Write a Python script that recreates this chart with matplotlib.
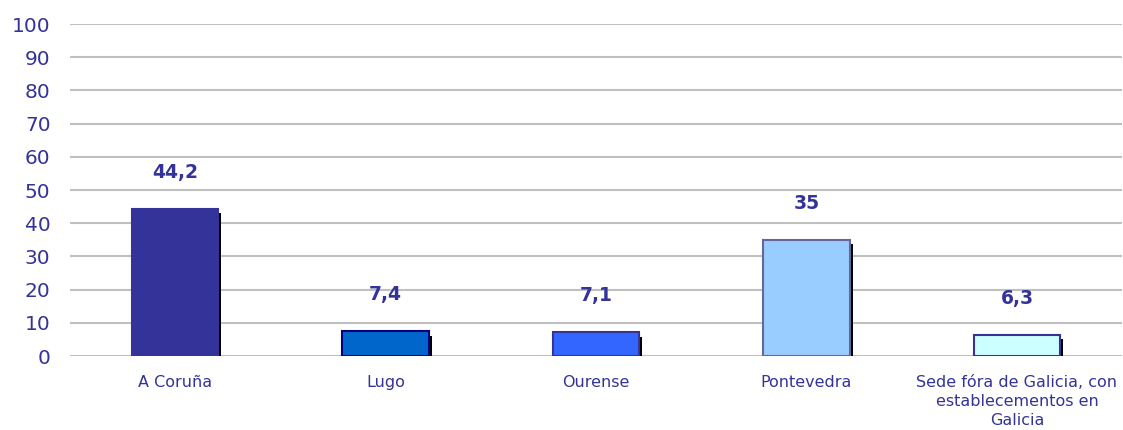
import matplotlib
matplotlib.use("Agg")
import matplotlib.pyplot as plt
import matplotlib.patheffects as pe

categories = ["A Coruña", "Lugo", "Ourense", "Pontevedra",
              "Sede fóra de Galicia, con\nestablecementos en\nGalicia"]
values = [44.2, 7.4, 7.1, 35, 6.3]
value_labels = ["44,2", "7,4", "7,1", "35", "6,3"]
face_colors = ["#333399", "#0066CC", "#3366FF", "#99CCFF", "#CCFFFF"]
edge_colors = ["#333399", "#000080", "#333399", "#666699", "#333399"]
yticks = list(range(0, 101, 10))

txt = "#333399"
fig = plt.figure(figsize=(11.23, 4.30), dpi=100)
ax = fig.add_axes([0.0623, 0.172, 0.937, 0.772])

x = range(len(categories))
bars = ax.bar(x, values, width=0.41, color=face_colors, edgecolor=edge_colors,
              linewidth=1.5, zorder=3)
for b in bars:
    b.set_path_effects([pe.SimplePatchShadow(offset=(2.2, -3), shadow_rgbFace="black", alpha=1.0),
                        pe.Normal()])

for xi, v, lab in zip(x, values, value_labels):
    ax.annotate(lab, (xi, v), xytext=(0, 26.5), textcoords="offset points",
                ha="center", va="center", fontsize=13.5, fontweight="bold", color=txt)

ax.set_xlim(-0.5, len(categories) - 0.5)
ax.set_ylim(0, 100)
ax.set_yticks(yticks)
ax.set_yticklabels([str(t) for t in yticks], fontsize=14.5, color=txt)
ax.set_xticks(list(x))
ax.set_xticklabels(categories, fontsize=11.5, color=txt, linespacing=1.33)
ax.tick_params(axis="both", length=0)
ax.tick_params(axis="y", pad=14)
ax.tick_params(axis="x", pad=14)
ax.yaxis.grid(True, color="#C0C0C0", linewidth=1.5, zorder=0)
ax.set_axisbelow(True)
for s in ax.spines.values():
    s.set_visible(False)

fig.savefig("out.png", dpi=100)
